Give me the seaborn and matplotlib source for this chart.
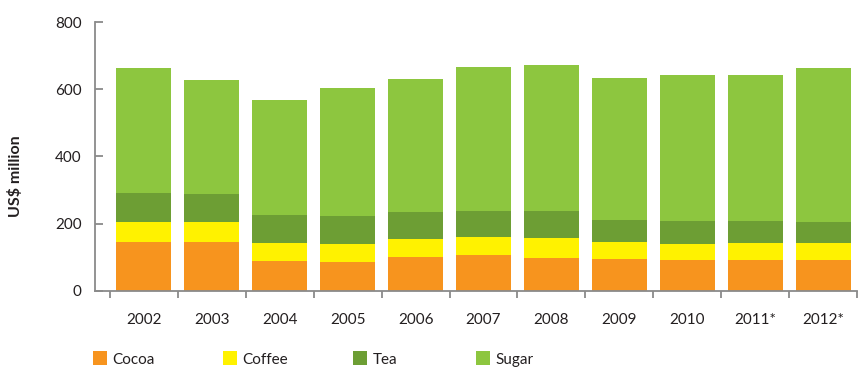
import matplotlib
matplotlib.use("Agg")
import matplotlib.pyplot as plt
import seaborn as sns
import pandas as pd
import numpy as np
from matplotlib.patches import Patch
from matplotlib.ticker import FixedLocator

years = ["2002", "2003", "2004", "2005", "2006", "2007", "2008", "2009", "2010", "2011*", "2012*"]
cocoa = [145, 145, 88, 85, 100, 106, 97, 94, 91, 91, 91]
coffee = [59, 59, 54, 54, 54, 54, 60, 51, 48, 51, 51]
tea = [87, 84, 83, 83, 80, 77, 80, 65, 68, 65, 63]
sugar = [372, 339, 342, 381, 396, 429, 435, 423, 435, 435, 458]

series = ["Cocoa", "Coffee", "Tea", "Sugar"]
colors = {"Cocoa": "#F7941E", "Coffee": "#FFF200", "Tea": "#6D9E34", "Sugar": "#8DC63F"}

sns.set_theme(style="white")
plt.rcParams['font.family'] = ['Lato', 'DejaVu Sans']

df = pd.DataFrame({"year": years, "Cocoa": cocoa, "Coffee": coffee, "Tea": tea, "Sugar": sugar})
cum = df[series].cumsum(axis=1)

fig = plt.figure(figsize=(8.58, 3.69), dpi=100)
ax = fig.add_axes([95 / 858, 1 - 290.7 / 369, 762 / 858, 268.7 / 369])

for s in reversed(series):
    sns.barplot(x=df["year"], y=cum[s], color=colors[s], width=0.81,
                saturation=1, ax=ax, linewidth=0, edgecolor="none")

ax.set_ylim(0, 800)
ax.set_xlim(-0.72, 10.5)
ax.set_yticks([0, 200, 400, 600, 800])
ax.set_xlabel("")
ax.set_ylabel("US$ million", fontsize=11.5, fontweight="bold", color="#231f20")
ax.yaxis.set_label_coords(-0.0945, 0.427)

grey = "#8a8a8a"
for side in ["top", "right"]:
    ax.spines[side].set_visible(False)
for side in ["left", "bottom"]:
    ax.spines[side].set_color(grey)
    ax.spines[side].set_linewidth(1.3)

ax.xaxis.set_minor_locator(FixedLocator(np.arange(-0.5, 11, 1.0)))
ax.tick_params(axis="x", which="major", length=0, pad=16, labelsize=11, labelcolor="#231f20")
ax.tick_params(axis="x", which="minor", length=5, width=1.3, color=grey, direction="out", bottom=True)
ax.tick_params(axis="y", which="major", length=6, width=1.3, color=grey, direction="in",
               pad=9.5, labelsize=11, labelcolor="#231f20", left=True)

xs = [93, 223, 353, 476]
for s, xp in zip(series, xs):
    fig.legend(handles=[Patch(facecolor=colors[s], edgecolor="none", label=s)],
               loc="center left", bbox_to_anchor=(xp / 858, 1 - 359 / 369),
               frameon=False, fontsize=11, handlelength=0.92, handleheight=1.0,
               handletextpad=0.35, borderpad=0, borderaxespad=0, labelcolor="#231f20")

fig.savefig("out.png", dpi=100)
